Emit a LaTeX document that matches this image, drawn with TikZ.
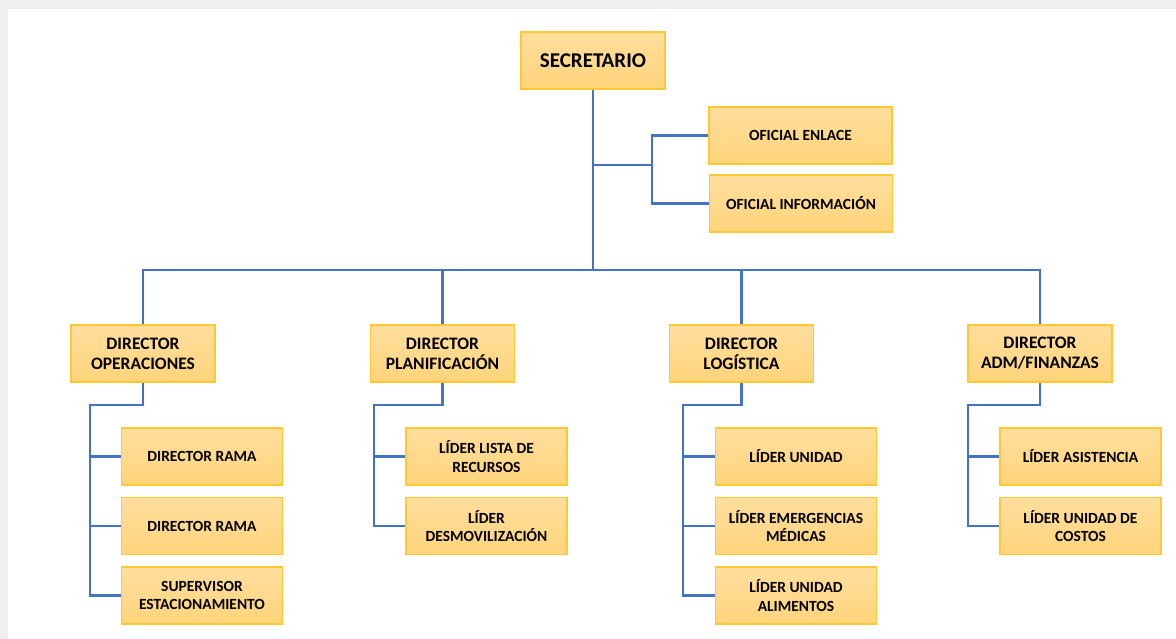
\documentclass[tikz,border=0pt]{standalone}
\usepackage{fontspec}
\setmainfont{Carlito}
\definecolor{boxtop}{HTML}{FFDE9E}
\definecolor{boxbot}{HTML}{FFD47A}
\definecolor{boxline}{HTML}{FFC832}
\definecolor{conn}{HTML}{4472C4}
\definecolor{frame}{HTML}{EFEFEF}
\begin{document}
\begin{tikzpicture}[x=1pt,y=-1pt,
  box/.style={draw=boxline, line width=1.2pt, top color=boxtop, bottom color=boxbot,
    align=center, inner sep=2pt, text=black},
  secbox/.style={box, minimum width=144pt, minimum height=57pt, font=\fontsize{21}{24}\selectfont\bfseries},
  offbox/.style={box, minimum width=183pt, minimum height=57pt, font=\fontsize{15.5}{18.5}\selectfont\bfseries},
  dirbox/.style={box, minimum width=144pt, minimum height=57pt, font=\fontsize{17.5}{20}\selectfont\bfseries},
  kidbox/.style={box, minimum width=161pt, minimum height=57pt, font=\fontsize{15.5}{18.5}\selectfont\bfseries},
  link/.style={draw=conn, line width=2.8pt, line join=miter}
]
\useasboundingbox (0,0) rectangle (1176,639);
\fill[frame] (0,0) rectangle (1176,639);
\fill[white] (8,9) rectangle (1176,639);

% nodes
\node[secbox] (sec) at (593,60.5) {SECRETARIO};
\node[offbox] (enl) at (800.5,135.5) {OFICIAL ENLACE};
\node[offbox] (inf) at (801,203.5) {OFICIAL INFORMACIÓN};

\node[dirbox] (op)   at (143,353.5) {DIRECTOR\\OPERACIONES};
\node[dirbox] (plan) at (442.5,353.5) {DIRECTOR\\PLANIFICACIÓN};
\node[dirbox] (log)  at (741.5,353.5) {DIRECTOR\\LOGÍSTICA};
\node[dirbox] (adm)  at (1040,353.5) {DIRECTOR\\ADM/FINANZAS};

\node[kidbox] (oc1) at (202,456.5) {DIRECTOR RAMA};
\node[kidbox] (oc2) at (202,526) {DIRECTOR RAMA};
\node[kidbox] (oc3) at (202,595.5) {SUPERVISOR\\ESTACIONAMIENTO};

\node[kidbox] (pc1) at (486.5,456.5) {LÍDER LISTA DE\\RECURSOS};
\node[kidbox] (pc2) at (486.5,526) {LÍDER\\DESMOVILIZACIÓN};

\node[kidbox] (lc1) at (796,456.5) {LÍDER UNIDAD};
\node[kidbox] (lc2) at (796,526) {LÍDER EMERGENCIAS\\MÉDICAS};
\node[kidbox] (lc3) at (796,595.5) {LÍDER UNIDAD\\ALIMENTOS};

\node[kidbox] (ac1) at (1080.5,456.5) {LÍDER ASISTENCIA};
\node[kidbox] (ac2) at (1080.5,526) {LÍDER UNIDAD DE\\COSTOS};

% helper coordinates
\coordinate (bus) at (593,270);
\coordinate (sb) at (593,165);
\coordinate (sbx) at (652,165);
\coordinate (opx) at (90,405);
\coordinate (plx) at (374,405);
\coordinate (lgx) at (683,405);
\coordinate (adx) at (968,405);

% connectors
\draw[link] (sec.south) -- (bus);
\draw[link] (sb) -- (sbx);
\draw[link] (enl.west) -| (sbx) |- (inf.west);
\draw[link] (op.north) |- (bus) -| (adm.north);
\draw[link] (plan.north) -- (plan.north |- bus);
\draw[link] (log.north) -- (log.north |- bus);

\draw[link] (op.south) |- (opx) |- (oc3.west);
\draw[link] (oc1.west -| opx) -- (oc1.west);
\draw[link] (oc2.west -| opx) -- (oc2.west);

\draw[link] (plan.south) |- (plx) |- (pc2.west);
\draw[link] (pc1.west -| plx) -- (pc1.west);

\draw[link] (log.south) |- (lgx) |- (lc3.west);
\draw[link] (lc1.west -| lgx) -- (lc1.west);
\draw[link] (lc2.west -| lgx) -- (lc2.west);

\draw[link] (adm.south) |- (adx) |- (ac2.west);
\draw[link] (ac1.west -| adx) -- (ac1.west);
\end{tikzpicture}
\end{document}
